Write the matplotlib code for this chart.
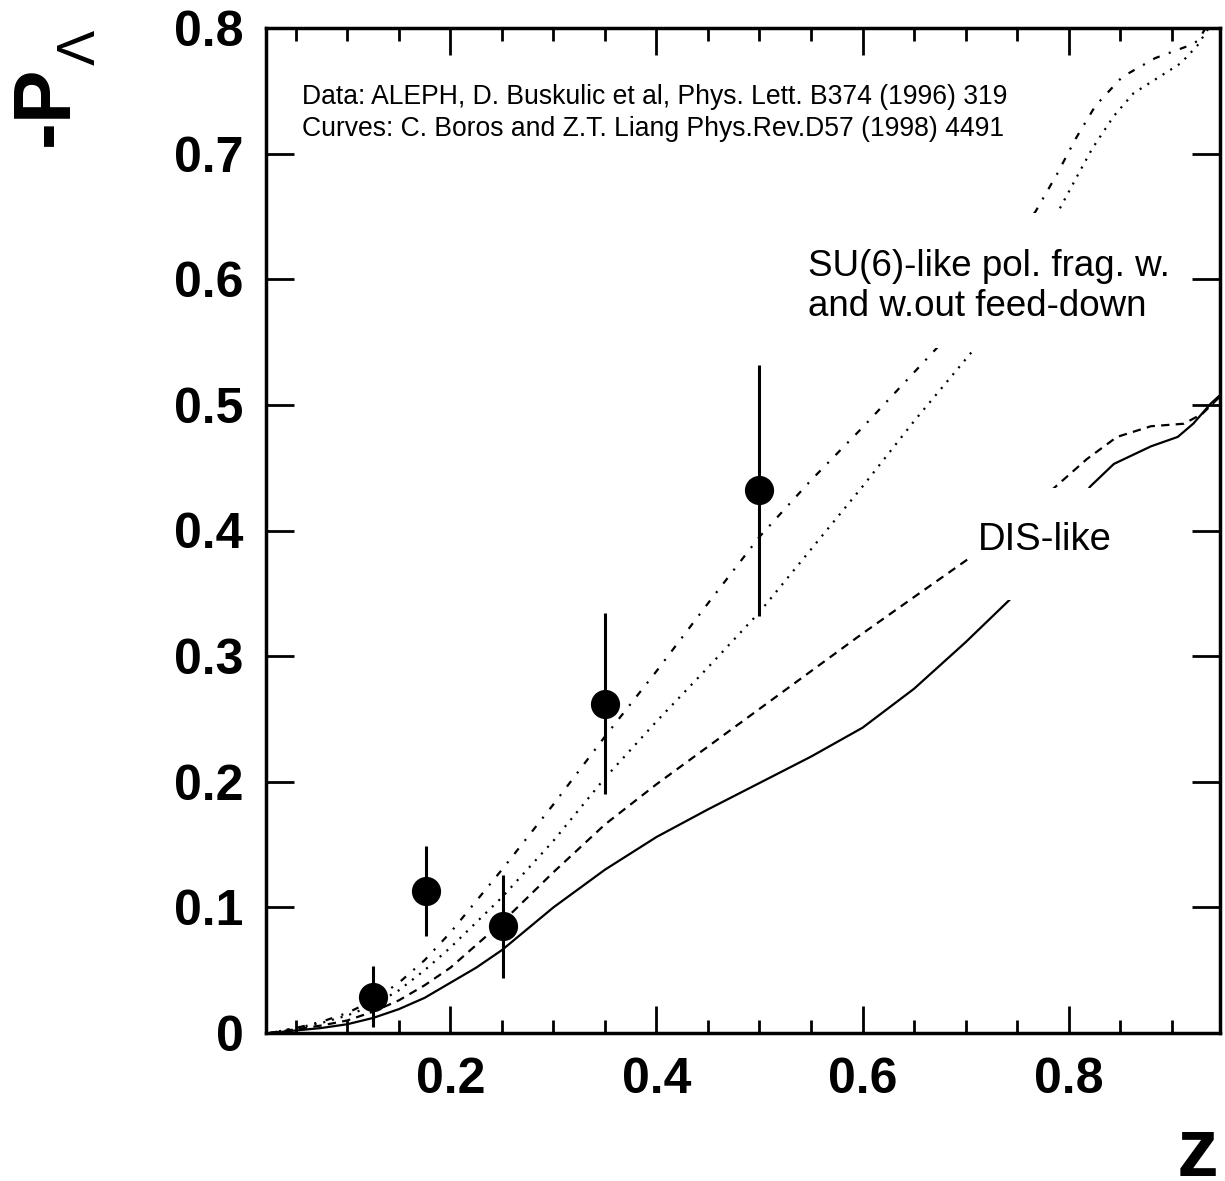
import matplotlib
matplotlib.use("Agg")
import matplotlib.pyplot as plt
from matplotlib.patches import Rectangle
from matplotlib.ticker import MultipleLocator, FixedLocator

plt.rcParams['font.family'] = ['Liberation Sans', 'DejaVu Sans']
plt.rcParams['lines.scale_dashes'] = False

# ALEPH data
data_z = [0.125, 0.176, 0.251, 0.350, 0.500]
data_p = [0.029, 0.113, 0.085, 0.262, 0.432]
data_err = [0.024, 0.036, 0.041, 0.072, 0.100]

# DIS-like, without feed-down (solid)
solid_z = [0.025, 0.05, 0.075, 0.1, 0.125, 0.15, 0.175, 0.2, 0.225, 0.25, 0.275, 0.3, 0.35,
           0.4, 0.45, 0.5, 0.55, 0.6, 0.65, 0.7, 0.743, 0.78, 0.821, 0.844, 0.88, 0.906,
           0.921, 0.938, 0.95]
solid_p = [0.0, 0.002, 0.004, 0.007, 0.012, 0.019, 0.028, 0.040, 0.052, 0.066, 0.083, 0.100,
           0.130, 0.156, 0.178, 0.199, 0.220, 0.243, 0.274, 0.311, 0.345, 0.385, 0.435, 0.453,
           0.467, 0.4745, 0.485, 0.501, 0.510]

# DIS-like, with feed-down (dashed)
dashed_z = [0.025, 0.05, 0.075, 0.1, 0.125, 0.15, 0.175, 0.2, 0.25, 0.3, 0.35, 0.4, 0.45, 0.5,
            0.55, 0.6, 0.65, 0.702, 0.745, 0.787, 0.818, 0.847, 0.88, 0.912, 0.93, 0.945, 0.95]
dashed_p = [0.0, 0.003, 0.006, 0.010, 0.017, 0.026, 0.038, 0.052, 0.088, 0.128, 0.166, 0.198,
            0.228, 0.258, 0.288, 0.318, 0.347, 0.377, 0.405, 0.4346, 0.457, 0.4745, 0.483,
            0.485, 0.493, 0.505, 0.509]

# SU(6)-like (dotted)
dotted_z = [0.025, 0.05, 0.075, 0.1, 0.125, 0.15, 0.175, 0.2, 0.25, 0.3, 0.35, 0.4, 0.45, 0.5,
            0.55, 0.6, 0.65, 0.71, 0.75, 0.79, 0.807, 0.823, 0.844, 0.863, 0.886, 0.909, 0.925,
            0.94]
dotted_p = [0.0, 0.004, 0.008, 0.014, 0.022, 0.034, 0.050, 0.068, 0.108, 0.153, 0.203, 0.248,
            0.291, 0.335, 0.385, 0.435, 0.487, 0.546, 0.600, 0.654, 0.680, 0.704, 0.730, 0.748,
            0.760, 0.772, 0.786, 0.805]

# SU(6)-like (dash-dot)
dashdot_z = [0.025, 0.05, 0.075, 0.1, 0.125, 0.15, 0.175, 0.2, 0.25, 0.3, 0.35, 0.4, 0.45, 0.5,
             0.55, 0.6, 0.673, 0.72, 0.768, 0.789, 0.807, 0.826, 0.852, 0.884, 0.917, 0.926,
             0.94]
dashdot_p = [0.0, 0.004, 0.009, 0.016, 0.026, 0.040, 0.058, 0.080, 0.130, 0.182, 0.236, 0.288,
             0.342, 0.395, 0.440, 0.482, 0.546, 0.600, 0.654, 0.684, 0.712, 0.738, 0.761, 0.776,
             0.786, 0.790, 0.810]

x_ticks = [0.2, 0.4, 0.6, 0.8]
x_ticklabels = ['0.2', '0.4', '0.6', '0.8']
y_ticks = [0.0, 0.1, 0.2, 0.3, 0.4, 0.5, 0.6, 0.7, 0.8]
y_ticklabels = ['0', '0.1', '0.2', '0.3', '0.4', '0.5', '0.6', '0.7', '0.8']

W, H = 1225, 1181
fig = plt.figure(figsize=(W / 100, H / 100), dpi=100)
L, R, T, B = 266, 1220, 28, 1033
ax = fig.add_axes([L / W, 1 - B / H, (R - L) / W, (B - T) / H])

lw = 1.6
ax.plot(solid_z, solid_p, color='black', lw=lw, ls='-', zorder=2)
ax.plot(dashed_z, dashed_p, color='black', lw=lw, ls=(0, (6, 4.5)), zorder=2)
ax.plot(dotted_z, dotted_p, color='black', lw=lw, ls=(0, (1.5, 5)), zorder=2)
ax.plot(dashdot_z, dashdot_p, color='black', lw=lw, ls=(0, (5, 7, 1.5, 7)), zorder=2)

# white label boxes that interrupt the curves
ax.add_patch(Rectangle((0.549, 0.682), 0.42, 0.134, transform=ax.transAxes,
                       facecolor='white', edgecolor='none', zorder=3))
ax.add_patch(Rectangle((0.736, 0.431), 0.175, 0.111, transform=ax.transAxes,
                       facecolor='white', edgecolor='none', zorder=3))

ax.errorbar(data_z, data_p, yerr=data_err, fmt='o', color='black', ms=20,
            elinewidth=2.2, capsize=0, zorder=5)

ax.set_xlim(0.021, 0.947)
ax.set_ylim(0.0, 0.8)

ax.xaxis.set_major_locator(FixedLocator(x_ticks))
ax.set_xticklabels(x_ticklabels)
ax.xaxis.set_minor_locator(MultipleLocator(0.05))
ax.yaxis.set_major_locator(FixedLocator(y_ticks))
ax.set_yticklabels(y_ticklabels)

for sp in ax.spines.values():
    sp.set_linewidth(2.5)

ax.tick_params(axis='both', which='both', direction='in', top=True, right=True,
               width=2.0, colors='black')
ax.tick_params(axis='x', which='major', length=19.5, pad=17)
ax.tick_params(axis='x', which='minor', length=9.5)
ax.tick_params(axis='y', which='major', length=20, pad=16)
for lab in ax.get_xticklabels() + ax.get_yticklabels():
    lab.set_fontsize(36)
    lab.set_fontweight('bold')

# axis titles
fig.text(47 / W, 1 - 106 / H, '-P', rotation=90, ha='center', va='center',
         fontsize=58, fontweight='bold')
fig.text(81 / W, 1 - 47 / H, 'Λ', rotation=90, ha='center', va='center',
         fontsize=38)
fig.text(1218 / W, 1 - 1176 / H, 'z', ha='right', va='baseline',
         fontsize=60, fontweight='bold')

# annotations
fig.text(302 / W, 1 - 97 / H, 'Data: ALEPH, D. Buskulic et al, Phys. Lett. B374 (1996) 319',
         ha='left', va='center', fontsize=19.1, zorder=10)
fig.text(302 / W, 1 - 129 / H, 'Curves: C. Boros and Z.T. Liang Phys.Rev.D57 (1998) 4491',
         ha='left', va='center', fontsize=19.1, zorder=10)
fig.text(808 / W, 1 - 267 / H, 'SU(6)-like pol. frag. w.', ha='left', va='center',
         fontsize=26.5, zorder=10)
fig.text(808 / W, 1 - 307 / H, 'and w.out feed-down', ha='left', va='center',
         fontsize=26.5, zorder=10)
fig.text(978 / W, 1 - 540 / H, 'DIS-like', ha='left', va='center',
         fontsize=27.5, zorder=10)

fig.savefig('out.png', dpi=100)
